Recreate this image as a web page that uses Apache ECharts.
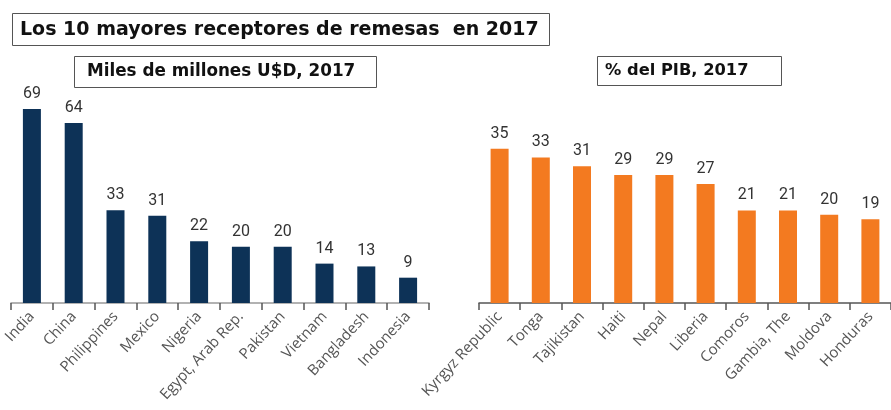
<!DOCTYPE html>
<html>
<head>
<meta charset="utf-8">
<script src="https://cdn.jsdelivr.net/npm/echarts@6/dist/echarts.min.js"></script>
<style>
  html, body { margin: 0; padding: 0; background: #fff; }
  #chart { width: 891px; height: 410px; }
</style>
</head>
<body>
<div id="chart"></div>
<script>
// datos
var mainTitle = 'Los 10 mayores receptores de remesas  en 2017'
var leftTitle = 'Miles de millones U$D, 2017'
var rightTitle = '% del PIB, 2017'

var usdCountries = ['India', 'China', 'Philippines', 'Mexico', 'Nigeria', 'Egypt, Arab Rep.', 'Pakistan', 'Vietnam', 'Bangladesh', 'Indonesia']
var usdValues = [69, 64, 33, 31, 22, 20, 20, 14, 13, 9]

var gdpCountries = ['Kyrgyz Republic', 'Tonga', 'Tajikistan', 'Haiti', 'Nepal', 'Liberia', 'Comoros', 'Gambia, The', 'Moldova', 'Honduras']
var gdpValues = [35, 33, 31, 29, 29, 27, 21, 21, 20, 19]

var chart = echarts.init(document.getElementById('chart'))

function xAxisCfg(idx, data, lineColor) {
  return {
    type: 'category',
    gridIndex: idx,
    data: data,
    axisLine: { lineStyle: { color: lineColor, width: 1.5 } },
    axisTick: { show: true, length: 7, lineStyle: { color: '#555', width: 1.5 } },
    axisLabel: {
      rotate: 47,
      interval: 0,
      margin: 11,
      color: '#555',
      fontSize: 15,
      fontFamily: 'Open Sans'
    }
  }
}

function yAxisCfg(idx, max) {
  return {
    type: 'value',
    gridIndex: idx,
    min: 0,
    max: max,
    show: false,
    splitLine: { show: false }
  }
}

function barSeries(idx, values, color) {
  return {
    type: 'bar',
    xAxisIndex: idx,
    yAxisIndex: idx,
    data: values,
    barWidth: 18,
    itemStyle: { color: color },
    label: {
      show: true,
      position: 'top',
      distance: 7,
      color: '#333',
      fontSize: 16,
      fontFamily: 'Roboto'
    }
  }
}

chart.setOption({
  animation: false,
  grid: [
    { left: 11, right: 462, top: 78, bottom: 107 },
    { left: 479, right: -6, top: 126.6, bottom: 107 }
  ],
  xAxis: [xAxisCfg(0, usdCountries, '#999'), xAxisCfg(1, gdpCountries, '#555')],
  yAxis: [yAxisCfg(0, 80), yAxisCfg(1, 40)],
  series: [
    barSeries(0, usdValues, '#0d3257'),
    barSeries(1, gdpValues, '#f37a20')
  ],
  graphic: [
    {
      type: 'rect',
      shape: { x: 12.5, y: 13.5, width: 537, height: 32 },
      style: { fill: '#fff', stroke: '#555', lineWidth: 1 }
    },
    {
      type: 'text',
      x: 20, y: 30,
      style: {
        text: mainTitle,
        fill: '#111',
        font: 'bold 19px "DejaVu Sans"',
        verticalAlign: 'middle'
      }
    },
    {
      type: 'rect',
      shape: { x: 74.5, y: 56.5, width: 302, height: 31 },
      style: { fill: '#fff', stroke: '#555', lineWidth: 1 }
    },
    {
      type: 'text',
      x: 87, y: 72,
      style: {
        text: leftTitle,
        fill: '#111',
        font: 'bold 16.8px "DejaVu Sans"',
        verticalAlign: 'middle'
      }
    },
    {
      type: 'rect',
      shape: { x: 597.5, y: 56.5, width: 184, height: 29 },
      style: { fill: '#fff', stroke: '#555', lineWidth: 1 }
    },
    {
      type: 'text',
      x: 605, y: 71,
      style: {
        text: rightTitle,
        fill: '#111',
        font: 'bold 16.3px "DejaVu Sans"',
        verticalAlign: 'middle'
      }
    }
  ]
})
</script>
</body>
</html>
